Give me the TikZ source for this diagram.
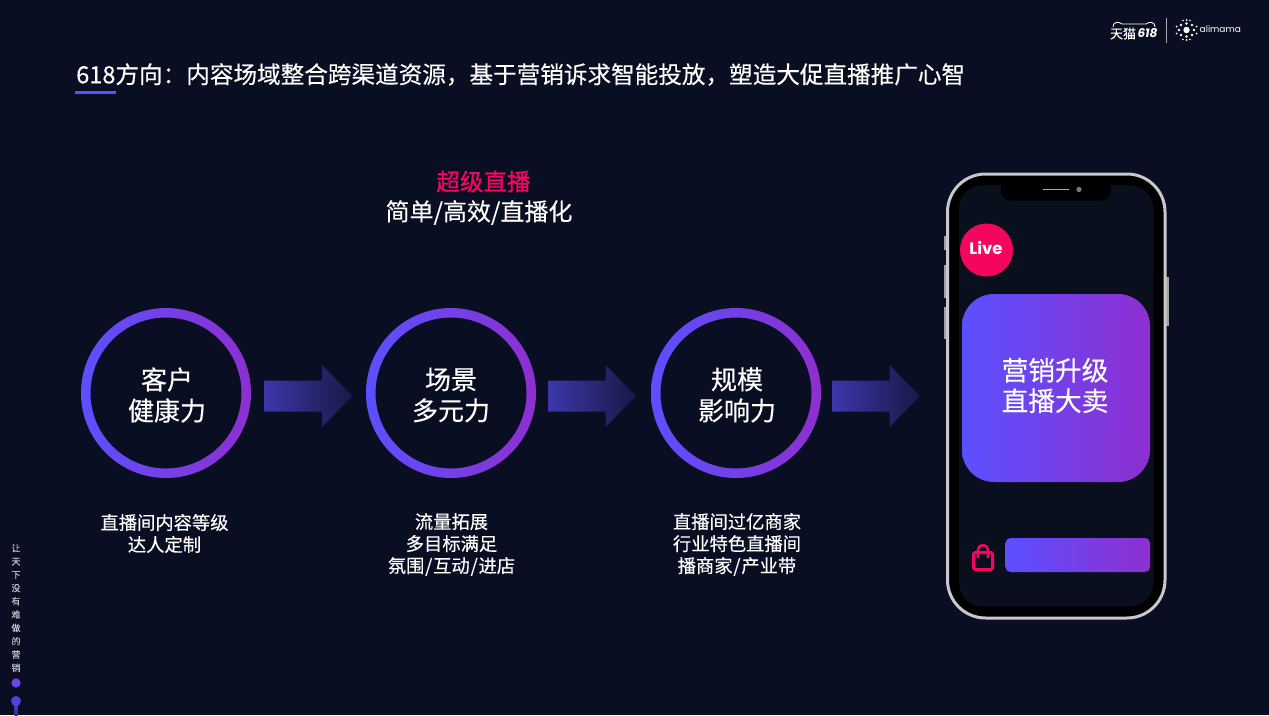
\documentclass[tikz,border=0pt]{standalone}
\usepackage{fontspec}
\setmainfont{Noto Sans CJK SC}[FakeBold=0.25, BoldFont=Noto Sans CJK SC, BoldFeatures={FakeBold=0.9}]
\newfontfamily\latinfont{Poppins}
\usetikzlibrary{positioning}
\definecolor{bgdark}{HTML}{0A0E22}
\definecolor{screendark}{HTML}{0A0F1E}
\definecolor{gradblue}{HTML}{5B50FF}
\definecolor{gradpurple}{HTML}{8E2FD0}
\definecolor{livepink}{HTML}{F4065F}
\definecolor{framegray}{HTML}{C6C8CC}
\newcommand{\wideslash}{\kern0.8pt/\kern0.8pt}
\newcommand{\cjkcolon}{\symbol{"FF1A}}
\newcommand{\cjkcomma}{\symbol{"FF0C}}
\tikzset{
    ringlabel/.style={text=white, align=center, font=\fontsize{26}{31}\selectfont},
    desclabel/.style={text=white, align=center, font=\fontsize{18.3}{22}\selectfont},
    gradfill/.style={left color=gradblue, right color=gradpurple},
    arrowfill/.style={left color=gradblue!62!bgdark, right color=gradblue!16!bgdark},
    sidebutton/.style={fill=framegray!80!black}
}
\begin{document}
\begin{tikzpicture}[x=1pt, y=-1pt]
    \fill[bgdark] (0,0) rectangle (1269,715);
    \useasboundingbox (0,0) rectangle (1269,715);

    % title
    \node[anchor=west, text=white, inner sep=0pt, font=\fontsize{23.6}{28}\selectfont] (title) at (76,74.5) {618方向\cjkcolon 内容场域整合跨渠道资源\cjkcomma 基于营销诉求智能投放\cjkcomma 塑造大促直播推广心智};
    \fill[gradblue] (75,90.5) rectangle (116,93.5);

    % logos
    \node[text=white, inner sep=0pt, font=\fontsize{13}{15}\selectfont] (tmall) at (1123,33.5) {天猫};
    \node[text=white, inner sep=0pt, font=\latinfont\itshape\bfseries\fontsize{12}{15}\selectfont] (tmallnum) at (1147.5,33.5) {618};
    \draw[white, line width=0.8pt] (1113,27) .. controls (1113,22) and (1118,21) .. (1122,24) -- (1146,24) .. controls (1150,21) and (1155,22) .. (1155,27);
    \draw[white!65!bgdark, line width=1pt] (1166.5,18) -- (1166.5,43);
    \fill[white] (1186.5,30) circle (3.2pt)
        (1186.5,23.5) circle (1.3pt) (1186.5,36.5) circle (1.3pt)
        (1179,30) circle (1.3pt) (1194,30) circle (1.3pt)
        (1181,25) circle (1.3pt) (1192,25) circle (1.3pt)
        (1181,35) circle (1.3pt) (1192,35) circle (1.3pt)
        (1186.5,20) circle (1pt) (1186.5,40) circle (1pt)
        (1183,20.5) circle (0.9pt) (1190,20.5) circle (0.9pt)
        (1183,39.5) circle (0.9pt) (1190,39.5) circle (0.9pt)
        (1176.5,26.5) circle (1pt) (1196.5,26.5) circle (1pt)
        (1176.5,33.5) circle (1pt) (1196.5,33.5) circle (1pt);
    \node[anchor=west, text=white, inner sep=0pt, font=\latinfont\fontsize{9}{12}\selectfont] (alimama) at (1199.5,29.5) {alimama};

    % side slogan
    \node[text=white!75!bgdark, inner sep=0pt, align=center, font=\fontsize{9}{13.3}\selectfont] (slogan) at (16,608) {让\\天\\下\\没\\有\\难\\做\\的\\营\\销};
    \fill[gradblue!60!gradpurple] (16,683) circle (4.6pt);
    \shade[top color=gradblue!90!black, bottom color=gradblue!40!bgdark] (14.5,700) -- (17.5,700) -- (17.5,715) -- (14.5,715) -- cycle;
    \fill[gradblue!85!black] (16,701) circle (5pt);

    % heading
    \node[text=livepink, inner sep=0pt, font=\bfseries\fontsize{23.5}{28}\selectfont] (headline) at (483.5,181.5) {超级直播};
    \node[text=white, inner sep=0pt, font=\fontsize{24}{28}\selectfont] (subline) at (479,212.5) {简单/高效/直播化};

    % rings
    \shade[gradfill, even odd rule] (166,393) circle (85) (166,393) circle (75.5);
    \shade[gradfill, even odd rule] (451,393) circle (85) (451,393) circle (75.5);
    \shade[gradfill, even odd rule] (736,393) circle (85) (736,393) circle (75.5);
    \node[ringlabel] (ringa) at (167,395) {客户\\健康力};
    \node[ringlabel] (ringb) at (451,395) {场景\\多元力};
    \node[ringlabel] (ringc) at (737,395) {规模\\影响力};

    % arrows
    \foreach \xpos in {264.5,548,832}
        \shade[arrowfill, xshift=\xpos] (0,380.5) -- (57.5,380.5) -- (57.5,365) -- (88,396) -- (57.5,427) -- (57.5,411.5) -- (0,411.5) -- cycle;

    % descriptions
    \node[desclabel] (desca) at (164.5,533.5) {直播间内容等级\\达人定制};
    \node[desclabel] (descb) at (451.5,544.5) {流量拓展\\多目标满足\\氛围\wideslash 互动\wideslash 进店};
    \node[desclabel] (descc) at (737,544.5) {直播间过亿商家\\行业特色直播间\\播商家\wideslash 产业带};

    % phone
    \fill[sidebutton] (943.8,236) rectangle (947,250);
    \fill[sidebutton] (943.8,265) rectangle (947,298);
    \fill[sidebutton] (943.8,307) rectangle (947,339);
    \fill[sidebutton] (1165,277) rectangle (1168.5,326);
    \draw[framegray, fill=black, line width=3pt, rounded corners=38] (947.5,174) rectangle (1165,618);
    \fill[screendark, rounded corners=24] (959,185) rectangle (1153.5,606.5);
    \fill[black, rounded corners=9] (1001,178) rectangle (1110.5,200.5);
    \draw[framegray!85!black, line width=1pt] (1043,189.5) -- (1069,189.5);
    \fill[framegray!60!black] (1079,189.5) circle (2.6pt);

    \fill[livepink] (986.5,250) circle (26.5);
    \node[text=white, inner sep=0pt, font=\latinfont\bfseries\fontsize{16.5}{18}\selectfont] (live) at (986,247.5) {Live};

    \shade[gradfill, rounded corners=32] (962,294) rectangle (1150,482);
    \node[text=white, align=center, font=\fontsize{26.7}{30.5}\selectfont] (card) at (1055,385.5) {营销升级\\直播大卖};

    \draw[livepink, line width=3pt, rounded corners=1.5pt] (973.5,552.5) rectangle (992.5,569.5);
    \draw[livepink, line width=2.6pt] (978,558) -- (978,550) arc (180:360:5) -- (988,558);
    \shade[gradfill, rounded corners=5] (1005.5,538) rectangle (1150,572);
\end{tikzpicture}
\end{document}
